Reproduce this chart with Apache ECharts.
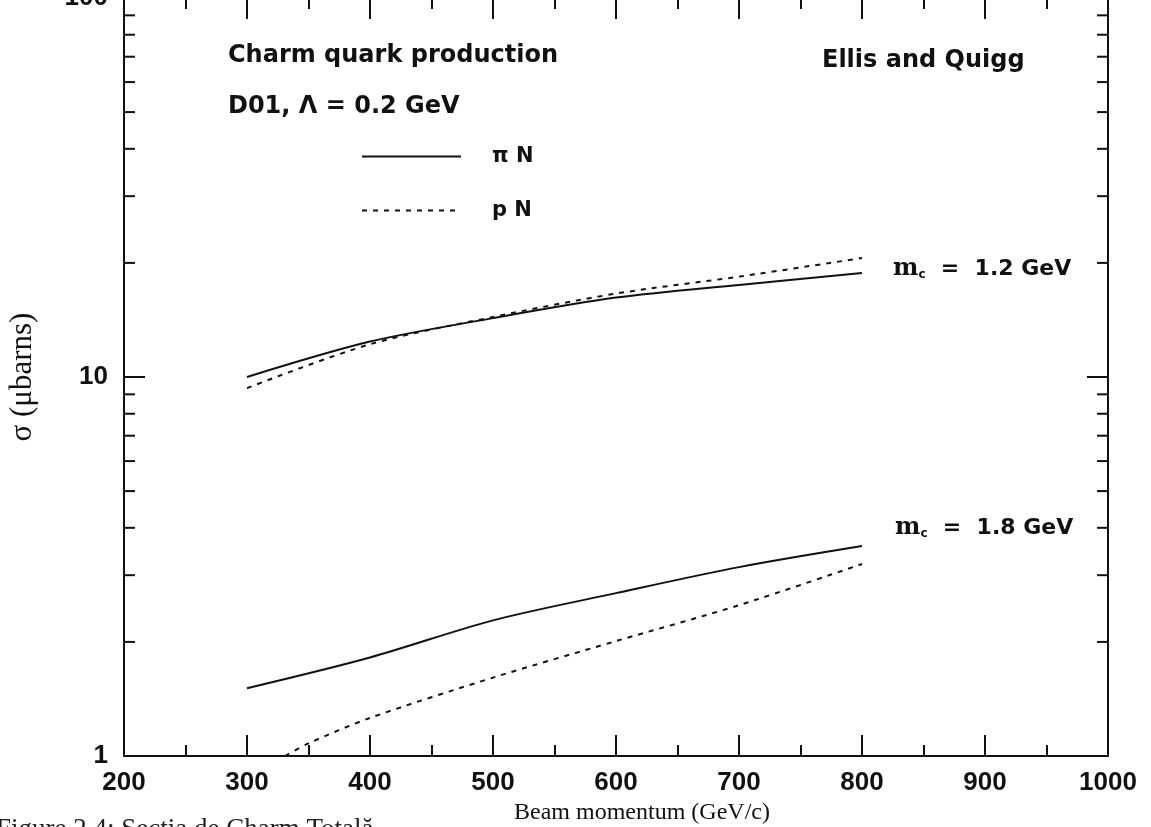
<!DOCTYPE html>
<html>
<head>
<meta charset="utf-8">
<script src="https://cdn.jsdelivr.net/npm/echarts@6/dist/echarts.min.js"></script>
<style>
  html, body { margin: 0; padding: 0; background: #ffffff; }
  #chart { width: 1151px; height: 827px; }
</style>
</head>
<body>
<div id="chart"></div>
<script>
// ---- data ----
const xTicks = [200, 300, 400, 500, 600, 700, 800, 900, 1000];
const yMinorTicks = [2, 3, 4, 5, 6, 7, 8, 9, 20, 30, 40, 50, 60, 70, 80, 90];

const momentum = [300, 400, 500, 600, 700, 800];
const piN_m12 = [10.0, 12.4, 14.3, 16.2, 17.5, 18.8];
const pN_m12  = [9.35, 12.2, 14.4, 16.6, 18.4, 20.6];
const piN_m18 = [1.51, 1.82, 2.28, 2.69, 3.15, 3.58];
const momentumPN18 = [331, 350, 400, 500, 600, 700, 800];
const pN_m18  = [1.0, 1.08, 1.26, 1.61, 2.01, 2.50, 3.21];

const titleLines = ['Charm quark production', 'D01, \u039B = 0.2 GeV'];
const authorText = 'Ellis and Quigg';
const massLabels = ['1.2 GeV', '1.8 GeV'];
const captionText = 'Figure 2.4: Sec\u021Bia de Charm Total\u0103';

const zip = (xs, ys) => xs.map((x, i) => [x, ys[i]]);

const ink = '#111111';

const chart = echarts.init(document.getElementById('chart'), null, { renderer: 'canvas' });

const xCommon = {
  type: 'value', min: 200, max: 1000, interval: 100,
  axisLine: { show: true, onZero: false, lineStyle: { color: ink, width: 2 } },
  axisTick: { show: true, inside: true, length: 21, lineStyle: { color: ink, width: 2 } },
  minorTick: { show: true, splitNumber: 2, length: 11, lineStyle: { color: ink, width: 2 } },
  splitLine: { show: false }, minorSplitLine: { show: false }
};
const yCommon = {
  type: 'log', logBase: 10, min: 1, max: 100,
  axisLine: { show: true, onZero: false, lineStyle: { color: ink, width: 2 } },
  axisTick: { show: true, inside: true, length: 21, lineStyle: { color: ink, width: 2 } },
  splitLine: { show: false }
};

const massRich = {
  m: { fontFamily: 'DejaVu Serif', fontWeight: 'bold', fontSize: 24, fill: ink },
  s: { fontFamily: 'DejaVu Sans', fontWeight: 'bold', fontSize: 12, fill: ink, padding: [11, 0, 0, 0] },
  t: { fontFamily: 'DejaVu Sans', fontWeight: 'bold', fontSize: 22, fill: ink }
};

const option = {
  backgroundColor: '#ffffff',
  animation: false,
  color: [ink, ink],
  grid: { left: 124, right: 43, top: -2, bottom: 71, containLabel: false, outerBoundsMode: 'none' },
  xAxis: [
    Object.assign({}, xCommon, {
      position: 'bottom',
      axisLabel: { margin: 14, fontSize: 26, fontFamily: 'Liberation Sans', fontWeight: 'bold', color: ink,
                   formatter: v => String(v) },
      name: 'Beam momentum (GeV/c)',
      nameLocation: 'middle', nameGap: 42,
      nameTextStyle: { fontFamily: 'Liberation Serif', fontSize: 24, color: ink, padding: [0, 0, 0, 52] }
    }),
    Object.assign({}, xCommon, { position: 'top', axisLabel: { show: false } })
  ],
  yAxis: [
    Object.assign({}, yCommon, {
      position: 'left',
      axisLabel: { margin: 16, fontSize: 26, fontFamily: 'Liberation Sans', fontWeight: 'bold', color: ink },
      name: '\u03C3 (\u03BCbarns)',
      nameLocation: 'middle', nameGap: 86, nameRotate: 90,
      nameTextStyle: { fontFamily: 'Liberation Serif', fontSize: 31, color: ink }
    }),
    Object.assign({}, yCommon, { position: 'right', axisLabel: { show: false } })
  ],
  legend: {
    orient: 'vertical', left: 356, top: 141,
    itemWidth: 99, itemHeight: 16, itemGap: 33,
    data: ['\u03C0 N', 'p N'],
    itemStyle: { opacity: 0 },
    textStyle: { fontSize: 21, fontFamily: 'DejaVu Sans', fontWeight: 'bold', color: ink, padding: [0, 0, 0, 26] },
    selectedMode: false
  },
  series: [
    { name: '\u03C0 N', type: 'line', data: zip(momentum, piN_m12), smooth: 0.3, symbol: 'none',
      itemStyle: { color: ink }, lineStyle: { color: ink, width: 2 } },
    { name: 'p N', type: 'line', data: zip(momentum, pN_m12), smooth: 0.3, symbol: 'none',
      itemStyle: { color: ink }, lineStyle: { color: ink, width: 2, type: [5, 6] } },
    { name: '\u03C0 N', type: 'line', data: zip(momentum, piN_m18), smooth: 0.3, symbol: 'none',
      itemStyle: { color: ink }, lineStyle: { color: ink, width: 2 } },
    { name: 'p N', type: 'line', data: zip(momentumPN18, pN_m18), smooth: 0.3, symbol: 'none',
      itemStyle: { color: ink }, lineStyle: { color: ink, width: 2, type: [5, 6] } },
    { name: 'yminor', type: 'custom', silent: true, z: 5,
      data: yMinorTicks.map(v => [200, v]),
      renderItem: function (params, api) {
        const v = api.value(1);
        const l = api.coord([200, v]);
        const r = api.coord([1000, v]);
        const st = { stroke: ink, lineWidth: 2 };
        return { type: 'group', children: [
          { type: 'line', shape: { x1: l[0], y1: l[1], x2: l[0] + 11, y2: l[1] }, style: st },
          { type: 'line', shape: { x1: r[0] - 11, y1: r[1], x2: r[0], y2: r[1] }, style: st }
        ] };
      }
    }
  ],
  graphic: [
    { type: 'text', left: 228, top: 44, style: { text: titleLines[0], fill: ink, font: 'bold 24px "DejaVu Sans"' } },
    { type: 'text', left: 228, top: 95, style: { text: titleLines[1], fill: ink, font: 'bold 24px "DejaVu Sans"' } },
    { type: 'text', left: 822, top: 49, style: { text: authorText, fill: ink, font: 'bold 24px "DejaVu Sans"' } },
    { type: 'text', left: 893, top: 257, style: { text: '{m|m}{s|c}{t|  =  ' + massLabels[0] + '}', rich: massRich } },
    { type: 'text', left: 895, top: 516, style: { text: '{m|m}{s|c}{t|  =  ' + massLabels[1] + '}', rich: massRich } },
    { type: 'text', left: -4, top: 816, style: { text: captionText, fill: '#222', font: '27px "Liberation Serif"' } }
  ]
};
chart.setOption(option);
</script>
</body>
</html>
